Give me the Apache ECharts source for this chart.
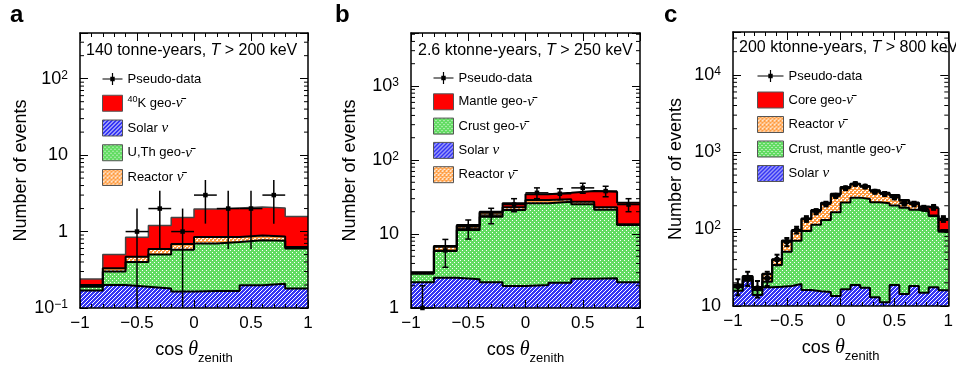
<!DOCTYPE html>
<html>
<head>
<meta charset="utf-8">
<script src="https://cdn.jsdelivr.net/npm/echarts@6.0.0/dist/echarts.min.js"></script>
<style>
  html, body { margin: 0; padding: 0; background: #fff; }
  #chart { width: 956px; height: 370px; }
</style>
</head>
<body>
<div id="chart"></div>
<script>
// bin edges in cos(theta_zenith)
const edgesAB = [-1, -0.8, -0.6, -0.4, -0.2, 0, 0.2, 0.4, 0.6, 0.8, 1];
const edgesC = [-1, -0.9091, -0.8182, -0.7273, -0.6364, -0.5455, -0.4545, -0.3636, -0.2727, -0.1818, -0.0909,
  0, 0.0909, 0.1818, 0.2727, 0.3636, 0.4545, 0.5455, 0.6364, 0.7273, 0.8182, 0.9091, 1];

// panel a (140 tonne-years) - stacked tops, bottom to top
const solarA   = [0.17, 0.20, 0.19, 0.18, 0.165, 0.167, 0.167, 0.198, 0.208, 0.18];
const uthA     = [0.19, 0.30, 0.40, 0.50, 0.58, 0.70, 0.73, 0.77, 0.76, 0.60];
const reactorA = [0.20, 0.33, 0.47, 0.59, 0.69, 0.85, 0.85, 0.89, 0.86, 0.63];
const k40A     = [0.24, 0.50, 0.84, 1.2, 1.53, 1.98, 2.04, 2.1, 2.04, 1.58];
const countsA  = [0, 0, 1, 2, 1, 3, 2, 2, 3, 0];
const errA     = [0, 0, 1, 1.41, 1, 1.73, 1.41, 1.41, 1.73, 0];

// panel b (2.6 ktonne-years)
const solarB   = [2.22, 2.57, 2.44, 2.22, 1.98, 2.05, 2.2, 2.49, 2.52, 2.22];
const crustB   = [2.91, 5.9, 11.3, 17.1, 21.1, 26, 27.3, 25.2, 21.3, 13.2];
const reactorB = [3.0, 6.7, 12.8, 19.4, 22.9, 28.8, 29.5, 27.3, 22.9, 13.5];
const mantleB  = [3.05, 6.9, 13.2, 20, 26, 34.4, 36.1, 38.1, 37.3, 26.5];
const countsB  = [1, 6, 12, 18, 25, 36, 35, 42, 38, 25];
const errB     = [1, 2.45, 3.46, 4.24, 5, 6, 5.92, 6.48, 6.16, 5];

// panel c (200 ktonne-years)
const solarC   = [15.8, 21.3, 13.9, 17.5, 17.8, 18.2, 19.3, 16.1, 15.5, 15.2, 13.5, 16.5, 18.7, 17.3, 13, 11.2, 18.7, 14.3, 18.2, 14.9, 17.5, 16];
const crustC   = [17.5, 22, 16.1, 20.7, 34, 50.7, 70.5, 94, 113, 131, 165, 220, 255, 245, 222, 216, 201, 189, 177, 168, 147, 92];
const reactorC = [18.7, 24, 17.3, 25.8, 39.6, 69.8, 94, 135, 173, 216, 280, 344, 380, 355, 314, 290, 269, 233, 216, 177, 150, 95];
const coreC    = [19, 24.5, 17.6, 26.3, 40.5, 71, 96, 137, 176, 219, 286, 350, 386, 360, 318, 296, 275, 237, 220, 195, 186, 131];
const countsC  = [18, 23, 17, 23, 40, 68, 97, 135, 168, 211, 269, 338, 384, 355, 305, 285, 258, 216, 211, 186, 191, 135];
const errC     = [4.24, 4.8, 4.12, 4.8, 6.32, 8.25, 9.85, 11.6, 13, 14.5, 16.4, 18.4, 19.6, 18.8, 17.5, 16.9, 16.1, 14.7, 14.5, 13.6, 13.8, 11.6];

// minor ticks of the log axes
const minorA = [0.2, 0.3, 0.4, 0.5, 0.6, 0.7, 0.8, 0.9, 2, 3, 4, 5, 6, 7, 8, 9, 20, 30, 40, 50, 60, 70, 80, 90, 200, 300];
const minorB = [2, 3, 4, 5, 6, 7, 8, 9, 20, 30, 40, 50, 60, 70, 80, 90, 200, 300, 400, 500, 600, 700, 800, 900, 2000, 3000, 4000, 5000];
const minorC = [20, 30, 40, 50, 60, 70, 80, 90, 200, 300, 400, 500, 600, 700, 800, 900, 2000, 3000, 4000, 5000, 6000, 7000, 8000, 9000, 20000, 30000];

const legendText = {
  a_data: 'Pseudo-data', a_k40: '{s|40}K geo-{nu|ν\u0304}', a_solar: 'Solar {nu|ν}', a_uth: 'U,Th geo-{nu|ν\u0304}', a_reac: 'Reactor {nu|ν\u0304}',
  b_data: 'Pseudo-data', b_mantle: 'Mantle geo-{nu|ν\u0304}', b_crust: 'Crust geo-{nu|ν\u0304}', b_solar: 'Solar {nu|ν}', b_reac: 'Reactor {nu|ν\u0304}',
  c_data: 'Pseudo-data', c_core: 'Core geo-{nu|ν\u0304}', c_reac: 'Reactor {nu|ν\u0304}', c_crust: 'Crust, mantle geo-{nu|ν\u0304}', c_solar: 'Solar {nu|ν}'
};

const FONT = 'Liberation Sans, Arial, Helvetica, sans-serif';
const SERIF = 'Liberation Serif, DejaVu Serif, serif';

function pattern(bg, cells, size) {
  const c = document.createElement('canvas');
  c.width = size; c.height = size;
  const g = c.getContext('2d');
  g.fillStyle = bg; g.fillRect(0, 0, size, size);
  g.fillStyle = '#ffffff';
  cells.forEach(([x, y]) => g.fillRect(x, y, 1, 1));
  return { image: c, repeat: 'repeat' };
}
const fillRed = '#ff0000';
const fillGreen = pattern('#62dc62', [[0, 0], [2, 2]], 4);
const fillBlue = pattern('#3434f4', [[3, 0], [2, 1], [1, 2], [0, 3]], 4);
const fillOrange = pattern('#ff9c40', [[0, 0], [1, 0], [2, 2], [3, 2], [1, 3]], 4);

const panels = [
  {
    key: 'a', grid: { left: 80, top: 33, width: 228, height: 276 }, ymin: 0.1, ymax: 396,
    edges: edgesAB, minor: minorA, nameGap: 48,
    layers: [
      { name: 'a_solar', top: solarA, fill: fillBlue },
      { name: 'a_uth', top: uthA, fill: fillGreen },
      { name: 'a_reac', top: reactorA, fill: fillOrange },
      { name: 'a_k40', top: k40A, fill: fillRed, line: '#444', lw: 1.5 }
    ],
    counts: countsA, err: errA, pts: { round: false, size: 4.5, lw: 1.5, cap: 0 },
    legend: { left: 102, top: 71, w: 20, gap: 7.75, items: ['a_data', 'a_k40', 'a_solar', 'a_uth', 'a_reac'] },
    title: { text: '140 tonne-years, {it|T} > 200 keV', left: 86, top: 43 },
    letter: { text: 'a', left: 10 }
  },
  {
    key: 'b', grid: { left: 411, top: 33, width: 229, height: 275 }, ymin: 1, ymax: 5200,
    edges: edgesAB, minor: minorB, nameGap: 52,
    layers: [
      { name: 'b_solar', top: solarB, fill: fillBlue },
      { name: 'b_crust', top: crustB, fill: fillGreen },
      { name: 'b_reac', top: reactorB, fill: fillOrange },
      { name: 'b_mantle', top: mantleB, fill: fillRed }
    ],
    counts: countsB, err: errB, pts: { round: false, size: 4.5, lw: 1.5, cap: 6 },
    legend: { left: 433, top: 70, w: 20, gap: 7.3, items: ['b_data', 'b_mantle', 'b_crust', 'b_solar', 'b_reac'] },
    title: { text: '2.6 ktonne-years, {it|T} > 250 keV', left: 418, top: 43 },
    letter: { text: 'b', left: 335 }
  },
  {
    key: 'c', grid: { left: 733, top: 32, width: 228, height: 274 }, ymin: 10, ymax: 36000,
    edges: edgesC, minor: minorC, nameGap: 48,
    layers: [
      { name: 'c_solar', top: solarC, fill: fillBlue },
      { name: 'c_crust', top: crustC, fill: fillGreen },
      { name: 'c_reac', top: reactorC, fill: fillOrange },
      { name: 'c_core', top: coreC, fill: fillRed }
    ],
    counts: countsC, err: errC, pts: { round: true, size: 6, lw: 2, cap: 5 },
    legend: { left: 757, top: 68, w: 26, gap: 7.5, items: ['c_data', 'c_core', 'c_reac', 'c_crust', 'c_solar'] },
    title: { text: '200 ktonne-years, {it|T} > 800 keV', left: 739, top: 40 },
    letter: { text: 'c', left: 664 }
  }
];

const fillOf = {};
panels.forEach(p => p.layers.forEach(l => { fillOf[l.name] = l.fill; }));

function crossIcon(w) {
  const c = w / 2;
  return 'path://M0,5.4H' + w + 'V6.6H0Z' +
    'M' + (c - 0.6) + ',0H' + (c + 0.6) + 'V12H' + (c - 0.6) + 'Z' +
    'M' + (c - 2.2) + ',3.8H' + (c + 2.2) + 'V8.2H' + (c - 2.2) + 'Z';
}

function fmtX(v) {
  return v < 0 ? '\u2212' + (-v) : String(v);
}
function fmtLog(v) {
  const l = Math.log10(v);
  const e = Math.round(l);
  if (Math.abs(l - e) > 0.01) return '';
  if (e === 0) return '1';
  if (e === 1) return '10';
  return '10{s|' + (e < 0 ? '\u2212' + (-e) : e) + '}';
}

function stepData(edges, vals) {
  const d = vals.map((v, i) => [edges[i], v]);
  d.push([edges[edges.length - 1], vals[vals.length - 1]]);
  return d;
}

function renderPoints(st) {
  return function (params, api) {
    const cs = params.coordSys;
    const bottom = cs.y + cs.height;
    const x = api.value(0), y = api.value(1), lo = api.value(2), hi = api.value(3);
    const c = api.coord([x, y]);
    const top = api.coord([x, hi])[1];
    const low = lo > 0 ? Math.min(api.coord([x, lo])[1], bottom) : bottom;
    const xl = api.coord([api.value(4), y])[0];
    const xr = api.coord([api.value(5), y])[0];
    const ls = { stroke: '#000', lineWidth: st.lw };
    const kids = [
      { type: 'line', shape: { x1: c[0], y1: low, x2: c[0], y2: top }, style: ls },
      { type: 'line', shape: { x1: xl, y1: c[1], x2: xr, y2: c[1] }, style: ls }
    ];
    if (st.cap) {
      kids.push({ type: 'line', shape: { x1: c[0] - st.cap / 2, y1: top, x2: c[0] + st.cap / 2, y2: top }, style: ls });
      if (lo > 0) kids.push({ type: 'line', shape: { x1: c[0] - st.cap / 2, y1: low, x2: c[0] + st.cap / 2, y2: low }, style: ls });
    }
    if (st.round) {
      kids.push({ type: 'circle', shape: { cx: c[0], cy: c[1], r: st.size / 2 }, style: { fill: '#000' } });
    } else {
      kids.push({ type: 'rect', shape: { x: c[0] - st.size / 2, y: c[1] - st.size / 2, width: st.size, height: st.size }, style: { fill: '#000' } });
    }
    return { type: 'group', children: kids };
  };
}

function renderMinor(params, api) {
  const cs = params.coordSys;
  const y = api.coord([0, api.value(1)])[1];
  const ls = { stroke: '#000', lineWidth: 1 };
  return {
    type: 'group', children: [
      { type: 'line', shape: { x1: cs.x, y1: y, x2: cs.x + 4, y2: y }, style: ls },
      { type: 'line', shape: { x1: cs.x + cs.width - 4, y1: y, x2: cs.x + cs.width, y2: y }, style: ls }
    ]
  };
}

const axisLineStyle = { color: '#000', width: 1.5 };
const tickStyle = { color: '#000', width: 1 };

const grids = [], xAxes = [], yAxes = [], series = [], legends = [], titles = [];

panels.forEach((p, i) => {
  grids.push(Object.assign({ containLabel: false }, p.grid));

  const xBase = {
    gridIndex: i, type: 'value', min: -1, max: 1, interval: 0.5, z: 10,
    axisLine: { show: true, onZero: false, lineStyle: axisLineStyle },
    axisTick: { show: true, inside: true, length: 8, lineStyle: tickStyle },
    minorTick: { show: true, splitNumber: 5, length: 4, lineStyle: tickStyle },
    splitLine: { show: false }
  };
  xAxes.push(Object.assign({}, xBase, {
    position: 'bottom',
    axisLabel: { margin: 7, color: '#000', fontFamily: FONT, fontSize: 17, formatter: fmtX },
    name: '{a|cos }{th|θ}{b|zenith}', nameLocation: 'middle', nameGap: 27,
    nameTextStyle: {
      color: '#000', fontFamily: FONT, fontSize: 18,
      rich: {
        a: { fontFamily: FONT, fontSize: 18, lineHeight: 30, color: '#000' },
        th: { fontFamily: SERIF, fontStyle: 'italic', fontSize: 20, lineHeight: 30, color: '#000' },
        b: { fontFamily: FONT, fontSize: 13, lineHeight: 14, verticalAlign: 'bottom', color: '#000' }
      }
    }
  }));
  xAxes.push(Object.assign({}, xBase, { position: 'top', axisLabel: { show: false } }));

  const yBase = {
    gridIndex: i, type: 'log', logBase: 10, min: p.ymin, max: p.ymax, z: 10,
    axisLine: { show: true, onZero: false, lineStyle: axisLineStyle },
    axisTick: { show: true, inside: true, length: 8, lineStyle: tickStyle },
    splitLine: { show: false }
  };
  yAxes.push(Object.assign({}, yBase, {
    position: 'left',
    axisLabel: {
      margin: 12, color: '#000', fontFamily: FONT, fontSize: 18, lineHeight: 18, formatter: fmtLog,
      rich: { s: { fontFamily: FONT, fontSize: 12, lineHeight: 12, verticalAlign: 'top', color: '#000' } }
    },
    name: 'Number of events', nameLocation: 'middle', nameGap: p.nameGap,
    nameTextStyle: { color: '#000', fontFamily: FONT, fontSize: 18 }
  }));
  yAxes.push(Object.assign({}, yBase, { position: 'right', axisLabel: { show: false } }));

  // stacked histogram: draw highest layer first, lower ones on top
  for (let k = p.layers.length - 1; k >= 0; k--) {
    const l = p.layers[k];
    series.push({
      name: l.name, type: 'line', xAxisIndex: 2 * i, yAxisIndex: 2 * i,
      step: 'end', symbol: 'none', silent: true, z: 2,
      data: stepData(p.edges, l.top),
      lineStyle: { color: l.line || '#000', width: l.lw || 2 },
      itemStyle: { color: '#000' },
      areaStyle: { color: l.fill, opacity: 1, origin: 'start' }
    });
  }

  const pts = [];
  p.counts.forEach((n, j) => {
    if (n > 0) pts.push([(p.edges[j] + p.edges[j + 1]) / 2, n, n - p.err[j], n + p.err[j], p.edges[j], p.edges[j + 1]]);
  });
  series.push({
    name: p.key + '_data', type: 'custom', xAxisIndex: 2 * i, yAxisIndex: 2 * i,
    silent: true, z: 6, clip: false, data: pts, encode: { x: 0, y: 1 },
    itemStyle: { color: '#000' },
    renderItem: renderPoints(p.pts)
  });

  series.push({
    type: 'custom', xAxisIndex: 2 * i, yAxisIndex: 2 * i, silent: true, z: 12,
    data: p.minor.map(v => [0, v]), encode: { x: 0, y: 1 },
    renderItem: renderMinor
  });

  legends.push({
    left: p.legend.left, top: p.legend.top, orient: 'vertical', padding: 0,
    itemWidth: p.legend.w, itemHeight: 16, itemGap: p.legend.gap,
    selectedMode: false, symbolKeepAspect: true, z: 20,
    textStyle: {
      fontFamily: FONT, fontSize: 13, color: '#000', lineHeight: 16,
      rich: {
        s: { fontFamily: FONT, fontSize: 9, lineHeight: 9, verticalAlign: 'top', color: '#000' },
        nu: { fontFamily: SERIF, fontStyle: 'italic', fontSize: 15, lineHeight: 16, color: '#000' }
      }
    },
    formatter: name => legendText[name],
    data: p.legend.items.map(name => name.endsWith('_data')
      ? { name, icon: crossIcon(p.legend.w), itemStyle: { color: '#000', borderWidth: 0 } }
      : { name, icon: 'rect', itemStyle: { color: fillOf[name], borderColor: '#555', borderWidth: 1 } })
  });

  titles.push({
    text: p.letter.text, left: p.letter.left, top: 3, padding: 0,
    textStyle: { fontFamily: FONT, fontSize: 24, fontWeight: 'bold', color: '#000' }
  });
  titles.push({
    text: p.title.text, left: p.title.left, top: p.title.top, padding: 0, z: 20,
    textStyle: {
      fontFamily: FONT, fontSize: 16, fontWeight: 'normal', color: '#000',
      rich: { it: { fontFamily: FONT, fontSize: 16, fontStyle: 'italic', color: '#000' } }
    }
  });
});

const chart = echarts.init(document.getElementById('chart'), null, { renderer: 'canvas' });
chart.setOption({
  backgroundColor: '#fff',
  animation: false,
  title: titles,
  legend: legends,
  grid: grids,
  xAxis: xAxes,
  yAxis: yAxes,
  series
});
</script>
</body>
</html>
